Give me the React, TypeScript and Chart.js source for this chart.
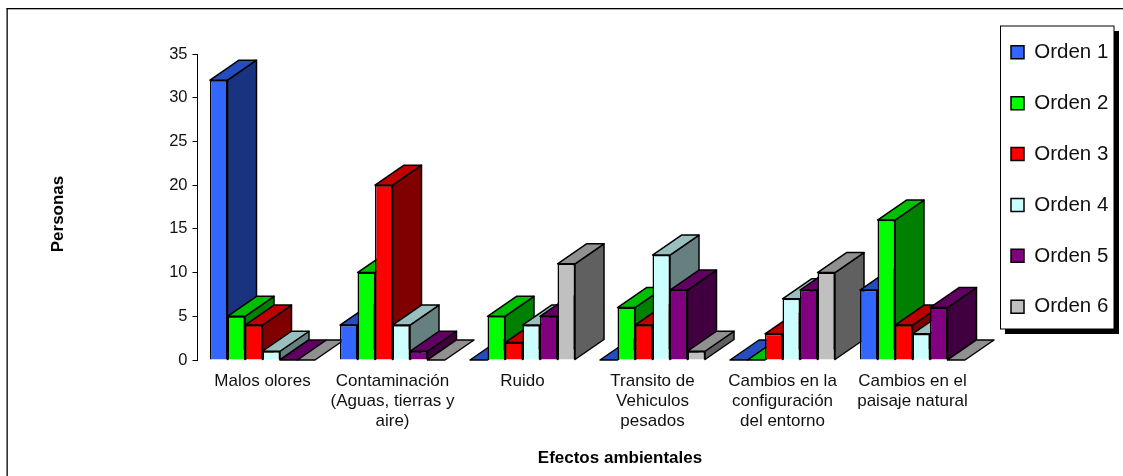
import React, { useEffect, useRef } from "react";
import { Chart, registerables } from "chart.js";

Chart.register(...registerables);

const categories: string[][] = [
  ["Malos olores"],
  ["Contaminación", "(Aguas, tierras y", "aire)"],
  ["Ruido"],
  ["Transito de", "Vehiculos", "pesados"],
  ["Cambios en la", "configuración", "del entorno"],
  ["Cambios en el", "paisaje natural"],
];
const orden1 = [32, 4, 0, 0, 0, 8];
const orden2 = [5, 10, 5, 6, 0, 16];
const orden3 = [4, 20, 2, 4, 3, 4];
const orden4 = [1, 4, 4, 12, 7, 3];
const orden5 = [0, 1, 5, 8, 8, 6];
const orden6 = [0, 0, 11, 1, 10, 0];

const seriesNames = ["Orden 1", "Orden 2", "Orden 3", "Orden 4", "Orden 5", "Orden 6"];
const seriesValues = [orden1, orden2, orden3, orden4, orden5, orden6];
const frontColors = ["#3366FF", "#00FF00", "#FF0000", "#CCFFFF", "#800080", "#C0C0C0"];
const topColors = ["#264DBF", "#00BF00", "#BF0000", "#99BFBF", "#600060", "#909090"];
const sideColors = ["#1A3380", "#008000", "#800000", "#668080", "#400040", "#606060"];

const DEPTH_X = 29;
const DEPTH_Y = 20;
const FONT = "'Liberation Sans', Arial, sans-serif";
const TEXT = "#111111";

function shiftTitle(scale: any, dx: number, dy: number) {
  const original = scale.drawTitle;
  scale.drawTitle = function (...args: any[]) {
    const ctx = this.ctx;
    ctx.save();
    ctx.translate(dx, dy);
    original.apply(this, args);
    ctx.restore();
  };
}

const pagePlugin = {
  id: "page",
  beforeDraw(chart: any) {
    const { ctx, width, height } = chart;
    ctx.save();
    ctx.fillStyle = "#FFFFFF";
    ctx.fillRect(0, 0, width, height);
    ctx.fillStyle = "#000000";
    // outer frame: only the top and left edges fall inside the picture
    ctx.fillRect(6.5, 8, width - 6.5, 1.3);
    ctx.fillRect(6.5, 8, 1.3, height - 8);
    // legend box and its shadow
    ctx.fillRect(1005, 31, 114, 303);
    ctx.fillStyle = "#FFFFFF";
    ctx.fillRect(1000.5, 26, 113.5, 303);
    ctx.strokeStyle = "#000000";
    ctx.lineWidth = 1;
    ctx.strokeRect(1000.5, 26, 113.5, 303);
    ctx.restore();
  },
};

const legendPlacement = {
  id: "legendPlacement",
  afterLayout(chart: any) {
    const legend = chart.legend;
    if (!legend) return;
    legend.left = 980.6;
    legend.right = 1123;
    legend.top = 11.6;
    legend.bottom = 476;
  },
};

const bar3d = {
  id: "bar3d",
  beforeDatasetsDraw(chart: any) {
    const { ctx } = chart;
    ctx.save();
    ctx.lineWidth = 1.5;
    ctx.strokeStyle = "#000000";
    ctx.lineJoin = "round";
    for (let c = 0; c < categories.length; c++) {
      for (let s = 0; s < seriesValues.length; s++) {
        const el = chart.getDatasetMeta(s).data[c];
        const left = el.x - el.width / 2;
        const right = el.x + el.width / 2;
        const top = el.y;
        const base = el.base;
        if (base - top > 0) {
          ctx.beginPath();
          ctx.moveTo(right, top);
          ctx.lineTo(right + DEPTH_X, top - DEPTH_Y);
          ctx.lineTo(right + DEPTH_X, base - DEPTH_Y);
          ctx.lineTo(right, base);
          ctx.closePath();
          ctx.fillStyle = sideColors[s];
          ctx.fill();
          ctx.stroke();
        }
        ctx.beginPath();
        ctx.moveTo(left, top);
        ctx.lineTo(left + DEPTH_X, top - DEPTH_Y);
        ctx.lineTo(right + DEPTH_X, top - DEPTH_Y);
        ctx.lineTo(right, top);
        ctx.closePath();
        ctx.fillStyle = topColors[s];
        ctx.fill();
        ctx.stroke();
      }
    }
    ctx.restore();
  },
};

export default function App() {
  const ref = useRef<HTMLCanvasElement | null>(null);

  useEffect(() => {
    if (!ref.current) return;
    const chart = new Chart(ref.current, {
      type: "bar",
      data: {
        labels: categories,
        datasets: seriesNames.map((name, i) => ({
          label: name,
          data: seriesValues[i],
          backgroundColor: frontColors[i],
          borderColor: "#000000",
          borderWidth: 1.5,
          barPercentage: 1,
          categoryPercentage: 105 / 130,
        })),
      },
      options: {
        animation: false,
        responsive: false,
        maintainAspectRatio: false,
        layout: { padding: { left: 40, top: 54, right: 45.5, bottom: 0 } },
        plugins: {
          title: { display: false },
          tooltip: { enabled: false },
          legend: {
            display: true,
            position: "right",
            align: "start",
            maxWidth: 100,
            labels: {
              boxWidth: 13,
              boxHeight: 13,
              padding: 30.4,
              color: TEXT,
              font: { family: FONT, size: 20.5 },
            },
          },
        },
        scales: {
          x: {
            grid: { display: false },
            border: { display: false },
            ticks: {
              color: TEXT,
              font: { family: FONT, size: 17, lineHeight: 20 / 17 },
              padding: 3,
              autoSkip: false,
              maxRotation: 0,
              minRotation: 0,
            },
            title: {
              display: true,
              text: "Efectos ambientales",
              color: "#000000",
              font: { family: FONT, size: 17, weight: "bold", lineHeight: 1.15 },
              padding: { top: 0, bottom: 8 },
            },
            afterFit(scale: any) {
              scale.height = 116;
              if (!scale.__shifted) {
                scale.__shifted = true;
                shiftTitle(scale, 32.5, 0);
              }
            },
          },
          y: {
            min: 0,
            max: 35,
            grid: {
              drawOnChartArea: false,
              drawTicks: true,
              tickLength: 5,
              color: "#000000",
            },
            border: { display: true, color: "#000000", width: 1 },
            ticks: {
              stepSize: 5,
              color: TEXT,
              font: { family: FONT, size: 16.5 },
              padding: 5,
            },
            title: {
              display: true,
              text: "Personas",
              color: "#000000",
              font: { family: FONT, size: 17, weight: "bold", lineHeight: 1.15 },
              padding: { top: 9, bottom: 0 },
            },
            afterFit(scale: any) {
              scale.width = 157.5;
              if (!scale.__shifted) {
                scale.__shifted = true;
                shiftTitle(scale, 0, 7);
              }
            },
          },
        },
      },
      plugins: [pagePlugin, legendPlacement, bar3d],
    } as any);
    return () => chart.destroy();
  }, []);

  return (
    <div style={{ position: "absolute", left: 0, top: 0, width: 1123, height: 476, overflow: "hidden" }}>
      <canvas ref={ref} width={1123} height={476} style={{ display: "block" }} />
    </div>
  );
}
